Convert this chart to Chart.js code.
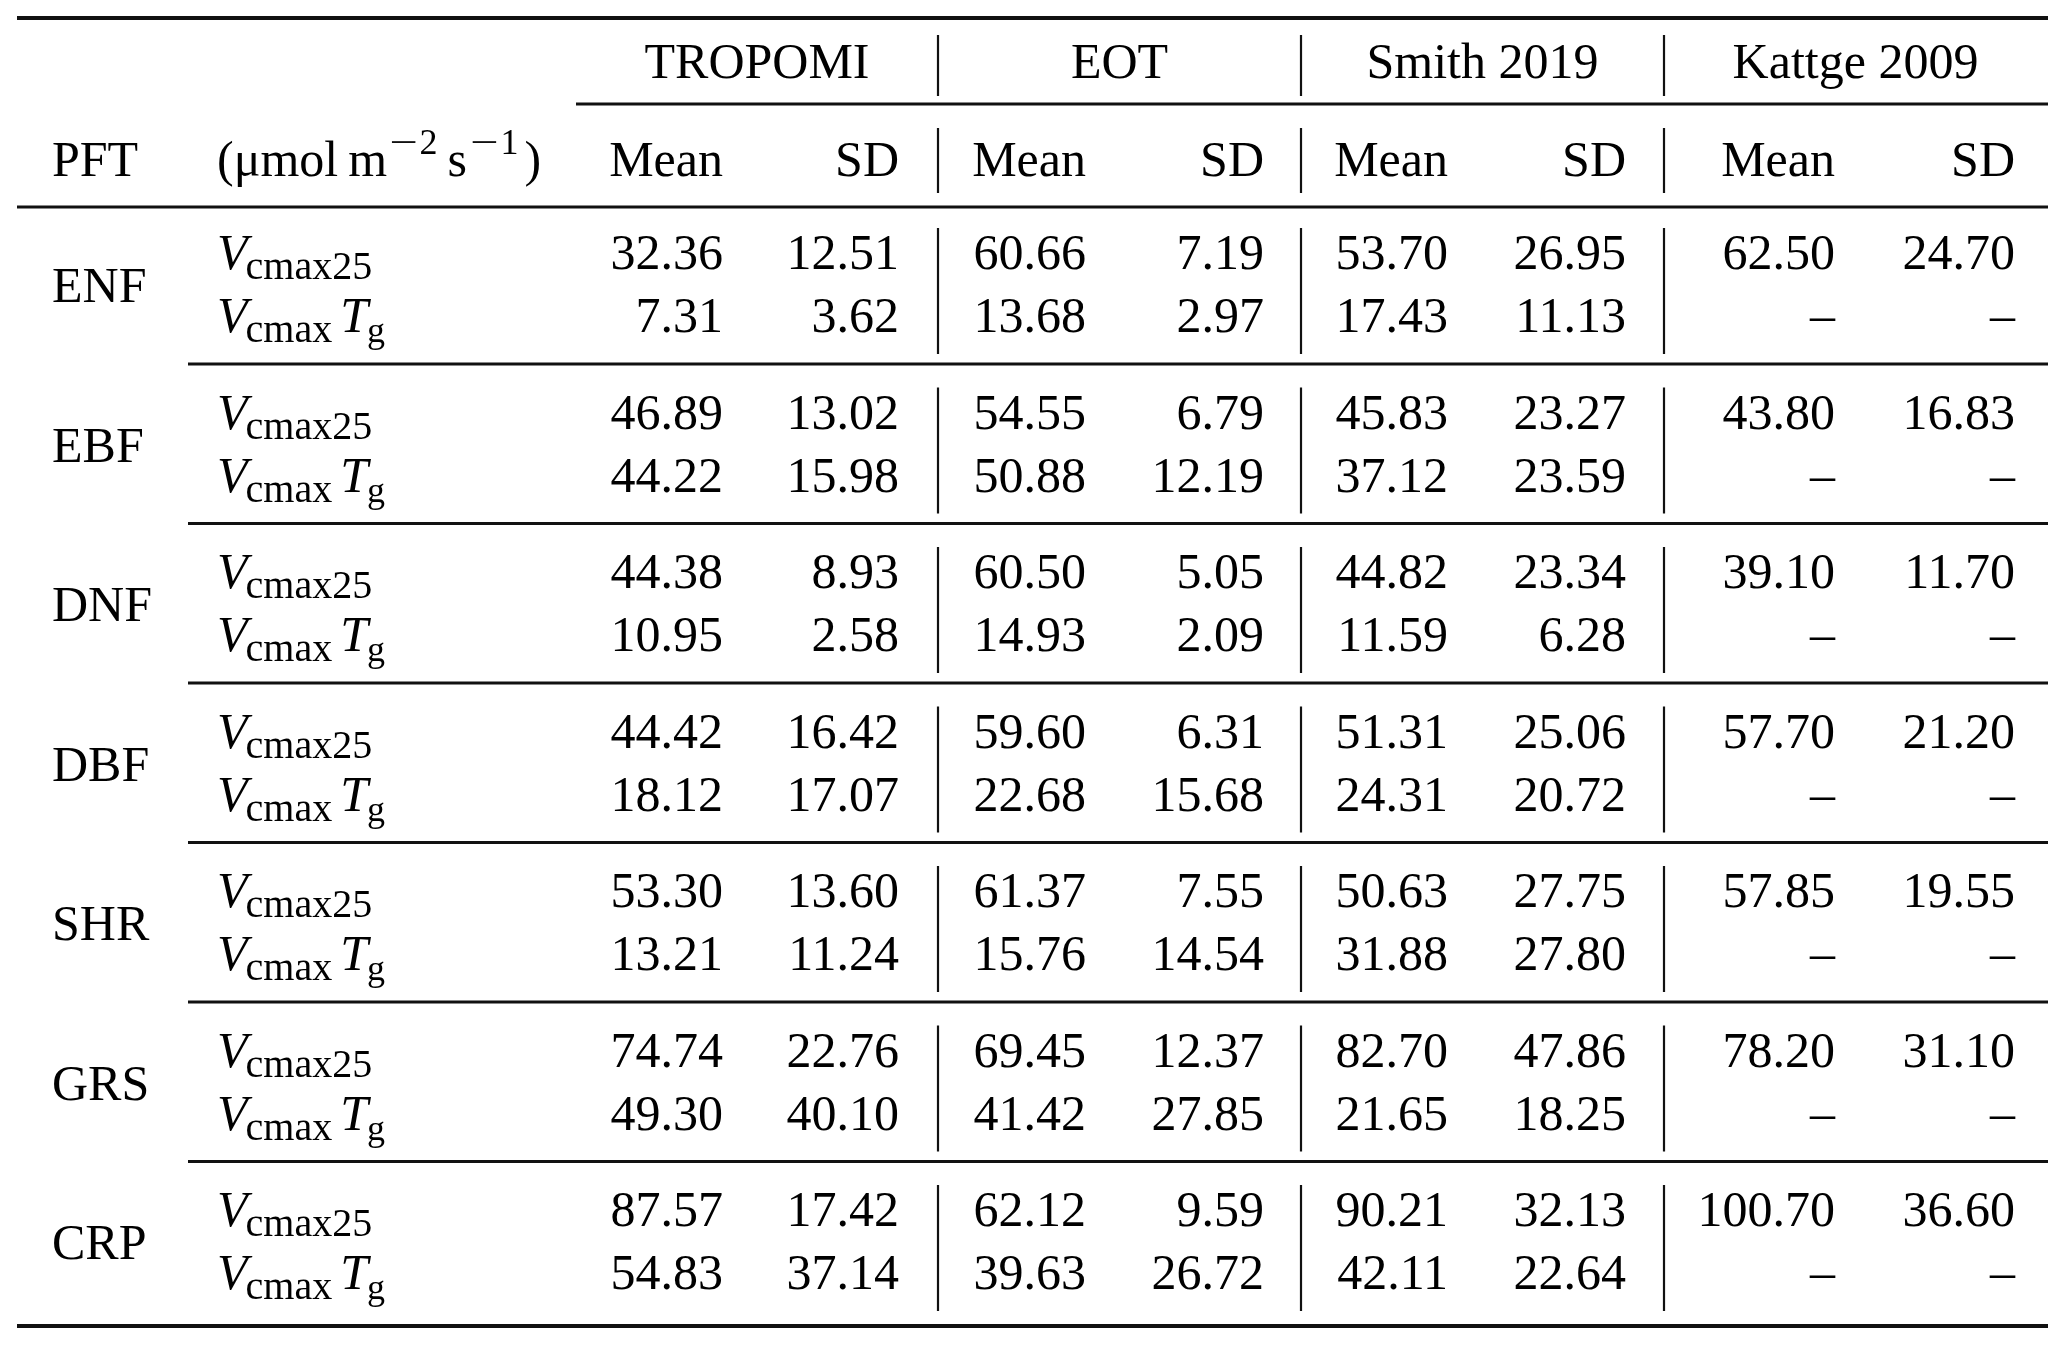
<!DOCTYPE html>
<html>
<head>
<meta charset="utf-8">
<script src="https://cdn.jsdelivr.net/npm/chart.js@4.4.1/dist/chart.umd.min.js"></script>
<style>
  html, body { margin: 0; padding: 0; background: #ffffff; }
  #wrap { width: 2067px; height: 1347px; }
  canvas { display: block; }
</style>
</head>
<body>
<div id="wrap"><canvas id="c" width="2067" height="1347"></canvas></div>
<script>
// ---------------- DATA ----------------
const pfts = ['ENF', 'EBF', 'DNF', 'DBF', 'SHR', 'GRS', 'CRP'];
const sources = ['TROPOMI', 'EOT', 'Smith 2019', 'Kattge 2009'];
const statLabels = ['Mean', 'SD'];
const headerPFT = 'PFT';

const tropomiV25Mean = [32.36, 46.89, 44.38, 44.42, 53.30, 74.74, 87.57];
const tropomiV25SD   = [12.51, 13.02, 8.93, 16.42, 13.60, 22.76, 17.42];
const tropomiTgMean  = [7.31, 44.22, 10.95, 18.12, 13.21, 49.30, 54.83];
const tropomiTgSD    = [3.62, 15.98, 2.58, 17.07, 11.24, 40.10, 37.14];

const eotV25Mean = [60.66, 54.55, 60.50, 59.60, 61.37, 69.45, 62.12];
const eotV25SD   = [7.19, 6.79, 5.05, 6.31, 7.55, 12.37, 9.59];
const eotTgMean  = [13.68, 50.88, 14.93, 22.68, 15.76, 41.42, 39.63];
const eotTgSD    = [2.97, 12.19, 2.09, 15.68, 14.54, 27.85, 26.72];

const smithV25Mean = [53.70, 45.83, 44.82, 51.31, 50.63, 82.70, 90.21];
const smithV25SD   = [26.95, 23.27, 23.34, 25.06, 27.75, 47.86, 32.13];
const smithTgMean  = [17.43, 37.12, 11.59, 24.31, 31.88, 21.65, 42.11];
const smithTgSD    = [11.13, 23.59, 6.28, 20.72, 27.80, 18.25, 22.64];

const kattgeV25Mean = [62.50, 43.80, 39.10, 57.70, 57.85, 78.20, 100.70];
const kattgeV25SD   = [24.70, 16.83, 11.70, 21.20, 19.55, 31.10, 36.60];
const kattgeTgMean  = [null, null, null, null, null, null, null];
const kattgeTgSD    = [null, null, null, null, null, null, null];

// ---------------- LAYOUT (positions in canvas units, mapped through scales) ----------------
const L = {
  W: 2067, H: 1347,
  font: '"Liberation Serif", "Times New Roman", serif',
  mainSize: 50, subSize: 40, supSize: 36,
  colPFT: 52, colVar: 217,
  colRight: [723, 899, 1086, 1264, 1448, 1626, 1835, 2015],
  groupCenter: [757, 1119.5, 1482.5, 1855.5],
  vsep: [938, 1301, 1664],
  yGroupHead: 78, ySubHead: 176,
  yRow1: 269, yRow2: 332, yPFT: 302, pitch: 159.5,
  ruleTop: 18, ruleCmid: 104, ruleHead: 207, ruleSep0: 364, ruleBottom: 1326,
  ruleL: 17, ruleR: 2048, cmidL: 576, sepL: 188,
  vHead: [35, 96], vSub: [128, 193], vData: [228, 354],
  thickOuter: 4, thickMid: 3, thickV: 2.2
};

const rowsV25 = [tropomiV25Mean, tropomiV25SD, eotV25Mean, eotV25SD, smithV25Mean, smithV25SD, kattgeV25Mean, kattgeV25SD];
const rowsTg = [tropomiTgMean, tropomiTgSD, eotTgMean, eotTgSD, smithTgMean, smithTgSD, kattgeTgMean, kattgeTgSD];

function fmt(v) { return (v === null || v === undefined) ? '\u2013' : v.toFixed(2); }

const tablePlugin = {
  id: 'tablePlugin',
  afterDraw(chart) {
    const ctx = chart.ctx;
    const xs = chart.scales.x, ys = chart.scales.y;
    const X = v => xs.getPixelForValue(v);
    const Y = v => ys.getPixelForValue(v);
    const F = (size, italic) => (italic ? 'italic ' : '') + size + 'px ' + L.font;
    ctx.save();
    ctx.fillStyle = '#000';
    ctx.strokeStyle = '#111';
    ctx.textBaseline = 'alphabetic';

    function hline(y, x0, x1, w) {
      ctx.lineWidth = w;
      ctx.beginPath(); ctx.moveTo(X(x0), Y(y)); ctx.lineTo(X(x1), Y(y)); ctx.stroke();
    }
    function vline(x, y0, y1) {
      ctx.lineWidth = L.thickV;
      ctx.beginPath(); ctx.moveTo(X(x), Y(y0)); ctx.lineTo(X(x), Y(y1)); ctx.stroke();
    }
    function text(s, x, y, size, align, italic) {
      ctx.font = F(size, italic);
      ctx.textAlign = align;
      ctx.fillText(s, X(x), Y(y));
    }

    // rules
    hline(L.ruleTop, L.ruleL, L.ruleR, L.thickOuter);
    hline(L.ruleCmid, L.cmidL, L.ruleR, L.thickMid);
    hline(L.ruleHead, L.ruleL, L.ruleR, L.thickMid);
    for (let k = 0; k < pfts.length - 1; k++) {
      hline(L.ruleSep0 + k * L.pitch, L.sepL, L.ruleR, L.thickMid);
    }
    hline(L.ruleBottom, L.ruleL, L.ruleR, L.thickOuter);

    // vertical separators
    L.vsep.forEach(x => {
      vline(x, L.vHead[0], L.vHead[1]);
      vline(x, L.vSub[0], L.vSub[1]);
      for (let k = 0; k < pfts.length; k++) {
        vline(x, L.vData[0] + k * L.pitch, L.vData[1] + k * L.pitch);
      }
    });

    // group headers
    sources.forEach((s, i) => text(s, L.groupCenter[i], L.yGroupHead, L.mainSize, 'center'));

    // sub header
    text(headerPFT, L.colPFT, L.ySubHead, L.mainSize, 'left');
    // (μmol m^-2 s^-1)
    let cx = X(L.colVar);
    const by = Y(L.ySubHead);
    ctx.textAlign = 'left';
    function piece(s, size, dy, gapAfter, stretch) {
      ctx.font = F(size, false);
      const w = ctx.measureText(s).width * (stretch || 1);
      ctx.save();
      ctx.translate(cx, by + dy);
      ctx.scale(stretch || 1, 1);
      ctx.fillText(s, 0, 0);
      ctx.restore();
      cx += w + (gapAfter || 0);
    }
    piece('(\u03bcmol', L.mainSize, 0, 10);
    piece('m', L.mainSize, 0, 2);
    piece('\u2212', L.supSize, -22, 2, 1.4);
    piece('2', L.supSize, -22, 10);
    piece('s', L.mainSize, 0, 3);
    piece('\u2212', L.supSize, -22, 2, 1.4);
    piece('1', L.supSize, -22, 6);
    piece(')', L.mainSize, 0, 0);

    L.colRight.forEach((x, i) => text(statLabels[i % 2], x, L.ySubHead, L.mainSize, 'right'));

    // body
    for (let k = 0; k < pfts.length; k++) {
      const y1 = L.yRow1 + k * L.pitch;
      const y2 = L.yRow2 + k * L.pitch;
      text(pfts[k], L.colPFT, L.yPFT + k * L.pitch, L.mainSize, 'left');

      // V_cmax25
      ctx.textAlign = 'left';
      let px = X(L.colVar);
      ctx.font = F(L.mainSize, true);
      ctx.fillText('V', px, Y(y1));
      px += ctx.measureText('V').width - 2;
      ctx.font = F(L.subSize, false);
      ctx.fillText('cmax25', px, Y(y1) + 10);

      // V_cmax T_g
      px = X(L.colVar);
      ctx.font = F(L.mainSize, true);
      ctx.fillText('V', px, Y(y2));
      px += ctx.measureText('V').width - 2;
      ctx.font = F(L.subSize, false);
      ctx.fillText('cmax', px, Y(y2) + 10);
      px += ctx.measureText('cmax').width + 8;
      ctx.font = F(L.mainSize, true);
      ctx.fillText('T', px, Y(y2));
      px += ctx.measureText('T').width - 1;
      ctx.font = F(L.subSize - 4, false);
      ctx.fillText('g', px, Y(y2) + 10);

      for (let c = 0; c < L.colRight.length; c++) {
        text(fmt(rowsV25[c][k]), L.colRight[c], y1, L.mainSize, 'right');
        text(fmt(rowsTg[c][k]), L.colRight[c], y2, L.mainSize, 'right');
      }
    }
    ctx.restore();
  }
};

new Chart(document.getElementById('c'), {
  type: 'scatter',
  data: { datasets: [] },
  options: {
    responsive: false,
    devicePixelRatio: 1,
    animation: false,
    layout: { padding: 0 },
    plugins: { legend: { display: false }, tooltip: { enabled: false }, title: { display: false } },
    scales: {
      x: { type: 'linear', min: 0, max: L.W, display: false },
      y: { type: 'linear', min: 0, max: L.H, reverse: true, display: false }
    }
  },
  plugins: [tablePlugin]
});
</script>
</body>
</html>
